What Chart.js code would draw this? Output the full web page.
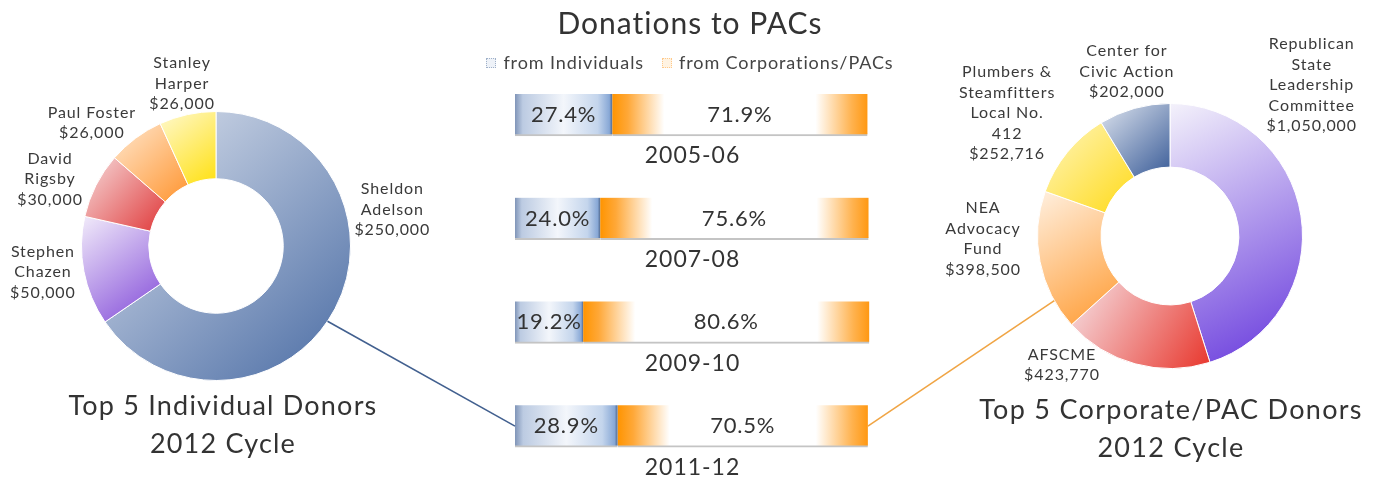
<!DOCTYPE html>
<html>
<head>
<meta charset="utf-8">
<title>Donations to PACs</title>
<script src="https://cdn.jsdelivr.net/npm/chart.js@4.4.0/dist/chart.umd.min.js"></script>
<style>
  html, body { margin: 0; padding: 0; background: #fff; }
  #wrap { position: relative; width: 1380px; height: 479px; overflow: hidden;
          font-family: Lato, "Open Sans", sans-serif; color: #333; }
  #wrap canvas { position: absolute; left: 0; top: 0; }
  .txt { position: absolute; text-align: center; white-space: nowrap; }
  #title { left: 440px; width: 500px; top: 3px; font-size: 30px; line-height: 38px; letter-spacing: 1px; }
  #legend { left: 440px; width: 500px; top: 50px; font-size: 18px; line-height: 24px; color: #444; letter-spacing: 0.9px; }
  #legend .box { display: inline-block; width: 8px; height: 8px; margin-right: 7px; vertical-align: 1px; }
  #legend .ind { border: 1px dotted #9fb0c8; background: #eef2f8; }
  #legend .corp { border: 1px dotted #ffc98a; background: #fff3e2; margin-left: 18px; }
  #leftTitle { left: 23px; width: 400px; top: 386px; font-size: 27px; line-height: 38px; letter-spacing: 1.2px; }
  #rightTitle { left: 971px; width: 400px; top: 390px; font-size: 27px; line-height: 38px; letter-spacing: 1.3px; }
</style>
</head>
<body>
<div id="wrap">
  <canvas id="leftDonut" width="1380" height="479" style="width:1380px;height:479px"></canvas>
  <canvas id="rightDonut" width="1380" height="479" style="width:1380px;height:479px"></canvas>
  <canvas id="bars" width="1380" height="479" style="width:1380px;height:479px"></canvas>
  <div class="txt" id="title">Donations to PACs</div>
  <div class="txt" id="legend"><span class="box ind"></span>from Individuals<span class="box corp"></span>from Corporations/PACs</div>
  <div class="txt" id="leftTitle">Top 5 Individual Donors<br>2012 Cycle</div>
  <div class="txt" id="rightTitle">Top 5 Corporate/PAC Donors<br>2012 Cycle</div>
</div>
<script>
// data
const individualDonors = ['Sheldon Adelson', 'Stephen Chazen', 'David Rigsby', 'Paul Foster', 'Stanley Harper'];
const individualAmounts = [250000, 50000, 30000, 26000, 26000];
const pacDonors = ['Republican State Leadership Committee', 'AFSCME', 'NEA Advocacy Fund',
                   'Plumbers & Steamfitters Local No. 412', 'Center for Civic Action'];
const pacAmounts = [1050000, 423770, 398500, 252716, 202000];
const cycles = ['2005-06', '2007-08', '2009-10', '2011-12'];
const fromIndividuals = [27.4, 24.0, 19.2, 28.9];
const fromCorporations = [71.9, 75.6, 80.6, 70.5];

// colours (light -> dark) per slice
const leftPalette = [['#dde3ee', '#4a6ca4'], ['#f2ecfa', '#8149d8'], ['#f6dcdc', '#e0393a'],
                     ['#ffe8d0', '#ff9530'], ['#fff9d0', '#ffe010']];
const rightPalette = [['#f4f2fb', '#6536dc'], ['#f6e2e6', '#e8362c'], ['#fff0e0', '#ff9a30'],
                      ['#fff6c0', '#ffda18'], ['#dfe5ef', '#3a5c98']];

// label placement around each donut (angle clockwise from 12 o'clock, distance from centre)
const leftLabels = {
  lines: [['Sheldon', 'Adelson'], ['Stephen', 'Chazen'], ['David', 'Rigsby'], ['Paul Foster'], ['Stanley', 'Harper']],
  angle: [78.4, 261.5, 292, 314.8, 348.2],
  dist: [180, 175, 179, 175, 166]
};
const rightLabels = {
  lines: [['Republican', 'State', 'Leadership', 'Committee'], ['AFSCME'], ['NEA', 'Advocacy', 'Fund'],
          ['Plumbers &', 'Steamfitters', 'Local No.', '412'], ['Center for', 'Civic Action']],
  angle: [43.2, 220, 269.1, 307, 345.3],
  dist: [207, 168, 187, 204, 170]
};

const FONT = 'Lato, "Open Sans", sans-serif';

// gradient over the bounding box of a slice, light top-left to dark bottom-right
function sliceFill(palette, cutout) {
  return function (c) {
    const chart = c.chart, area = chart.chartArea, i = c.dataIndex;
    if (!area) return palette[i][1];
    const vals = c.dataset.data;
    const total = vals.reduce((a, b) => a + b, 0);
    let before = 0;
    for (let k = 0; k < i; k++) before += vals[k];
    const a0 = -Math.PI / 2 + before / total * Math.PI * 2;
    const a1 = a0 + vals[i] / total * Math.PI * 2;
    const cx = (area.left + area.right) / 2, cy = (area.top + area.bottom) / 2;
    const R = Math.min(area.width, area.height) / 2, r = R * cutout / 100;
    let minX = Infinity, minY = Infinity, maxX = -Infinity, maxY = -Infinity;
    for (let s = 0; s <= 40; s++) {
      const a = a0 + (a1 - a0) * s / 40;
      [r, R].forEach(rad => {
        const x = cx + rad * Math.cos(a), y = cy + rad * Math.sin(a);
        minX = Math.min(minX, x); maxX = Math.max(maxX, x);
        minY = Math.min(minY, y); maxY = Math.max(maxY, y);
      });
    }
    const g = chart.ctx.createLinearGradient(minX, minY, maxX, maxY);
    g.addColorStop(0, palette[i][0]);
    g.addColorStop(1, palette[i][1]);
    return g;
  };
}

function sliceLabels(layout, amounts) {
  return {
    id: 'sliceLabels',
    afterDraw(chart) {
      const arc = chart.getDatasetMeta(0).data[0];
      const ctx = chart.ctx;
      ctx.save();
      ctx.font = '16px ' + FONT;
      ctx.letterSpacing = '0.9px';
      ctx.fillStyle = '#3a3a3a';
      ctx.textAlign = 'center';
      ctx.textBaseline = 'middle';
      layout.lines.forEach((ln, i) => {
        const lines = ln.concat('$' + amounts[i].toLocaleString('en-US'));
        const t = layout.angle[i] * Math.PI / 180;
        const x = arc.x + layout.dist[i] * Math.sin(t);
        const y = arc.y - layout.dist[i] * Math.cos(t);
        const lh = 20.5;
        lines.forEach((s, k) => ctx.fillText(s, x, y + (k - (lines.length - 1) / 2) * lh));
      });
      ctx.restore();
    }
  };
}

function donut(id, labels, values, palette, cutout, pad, layout) {
  return new Chart(document.getElementById(id), {
    type: 'doughnut',
    data: {
      labels: labels,
      datasets: [{ data: values, backgroundColor: sliceFill(palette, cutout), borderColor: '#ffffff', borderWidth: 1 }]
    },
    options: {
      responsive: false,
      devicePixelRatio: 1,
      animation: false,
      cutout: cutout + '%',
      layout: { padding: pad },
      plugins: { legend: { display: false }, tooltip: { enabled: false } }
    },
    plugins: [sliceLabels(layout, values)]
  });
}

const leftChart = donut('leftDonut', individualDonors, individualAmounts, leftPalette, 50,
  { left: 81, right: 1029, top: 111, bottom: 98 }, leftLabels);
const rightChart = donut('rightDonut', pacDonors, pacAmounts, rightPalette, 52,
  { left: 1037, right: 77, top: 103, bottom: 110 }, rightLabels);

// bar fills
function barFill(which) {
  return function (c) {
    const chart = c.chart;
    if (!chart.chartArea) return which ? '#ff9a18' : '#a9bbd6';
    const xs = chart.scales.x;
    const prev = which ? fromIndividuals[c.dataIndex] : 0;
    const x0 = xs.getPixelForValue(prev);
    const x1 = xs.getPixelForValue(prev + c.dataset.data[c.dataIndex]);
    const g = chart.ctx.createLinearGradient(x0, 0, x1, 0);
    if (!which) {
      g.addColorStop(0, '#8095b8');
      g.addColorStop(0.08, '#bccbe2');
      g.addColorStop(0.5, '#f3f6fb');
      g.addColorStop(0.85, '#c4d5ec');
      g.addColorStop(0.97, '#88a8d6');
      g.addColorStop(1, '#51698f');
    } else {
      const f = 52 / (x1 - x0);
      g.addColorStop(0, '#ff9400');
      g.addColorStop(f * 0.3, '#ffa838');
      g.addColorStop(f, '#ffffff');
      g.addColorStop(1 - f, '#ffffff');
      g.addColorStop(1 - f * 0.3, '#ffb24e');
      g.addColorStop(1, '#ff9812');
    }
    return g;
  };
}

const barText = {
  id: 'barText',
  afterDatasetsDraw(chart) {
    const ctx = chart.ctx;
    ctx.save();
    ctx.fillStyle = '#333';
    ctx.textAlign = 'center';
    ctx.textBaseline = 'middle';
    ctx.font = '22px ' + FONT;
    ctx.letterSpacing = '0.8px';
    chart.data.datasets.forEach((ds, d) => {
      chart.getDatasetMeta(d).data.forEach((el, i) => {
        const p = el.getProps(['x', 'y', 'base'], true);
        ctx.fillText(ds.data[i].toFixed(1) + '%', (p.x + p.base) / 2, p.y);
      });
    });
    ctx.font = '23px ' + FONT;
    ctx.letterSpacing = '1px';
    chart.getDatasetMeta(0).data.forEach((el, i) => {
      const p = el.getProps(['y'], true);
      const mid = (chart.chartArea.left + chart.chartArea.right) / 2;
      ctx.fillText(cycles[i], mid, p.y + 41);
    });
    ctx.restore();
  }
};

// lines from each donut to the latest cycle bar
const connectors = {
  id: 'connectors',
  afterDraw(chart) {
    const ctx = chart.ctx;
    const last = cycles.length - 1;
    const ind = chart.getDatasetMeta(0).data[last].getProps(['base', 'y'], true);
    const corp = chart.getDatasetMeta(1).data[last].getProps(['x', 'y'], true);
    const la = leftChart.getDatasetMeta(0).data[0];
    const ra = rightChart.getDatasetMeta(0).data[0];
    const edge = (a, deg) => {
      const t = deg * Math.PI / 180;
      return [a.x + a.outerRadius * Math.sin(t), a.y - a.outerRadius * Math.cos(t)];
    };
    ctx.save();
    ctx.lineWidth = 1.6;
    const p = edge(la, 124);
    ctx.strokeStyle = '#42608f';
    ctx.beginPath(); ctx.moveTo(p[0], p[1]); ctx.lineTo(ind.base, ind.y); ctx.stroke();
    const q = edge(ra, 240.8);
    ctx.strokeStyle = '#f0a545';
    ctx.beginPath(); ctx.moveTo(q[0], q[1]); ctx.lineTo(corp.x, corp.y); ctx.stroke();
    ctx.restore();
  }
};

new Chart(document.getElementById('bars'), {
  type: 'bar',
  data: {
    labels: cycles,
    datasets: [
      { label: 'from Individuals', data: fromIndividuals, backgroundColor: barFill(0),
        borderColor: '#c4c4c4', borderWidth: { bottom: 2 }, borderSkipped: false, barThickness: 42 },
      { label: 'from Corporations/PACs', data: fromCorporations, backgroundColor: barFill(1),
        borderColor: '#c4c4c4', borderWidth: { bottom: 2 }, borderSkipped: false, barThickness: 42 }
    ]
  },
  options: {
    indexAxis: 'y',
    responsive: false,
    devicePixelRatio: 1,
    animation: false,
    layout: { padding: { left: 515, right: 510, top: 63, bottom: 1 } },
    scales: {
      x: { stacked: true, min: 0, max: 100, display: false },
      y: { stacked: true, display: false }
    },
    plugins: { legend: { display: false }, tooltip: { enabled: false } }
  },
  plugins: [barText, connectors]
});
</script>
</body>
</html>
